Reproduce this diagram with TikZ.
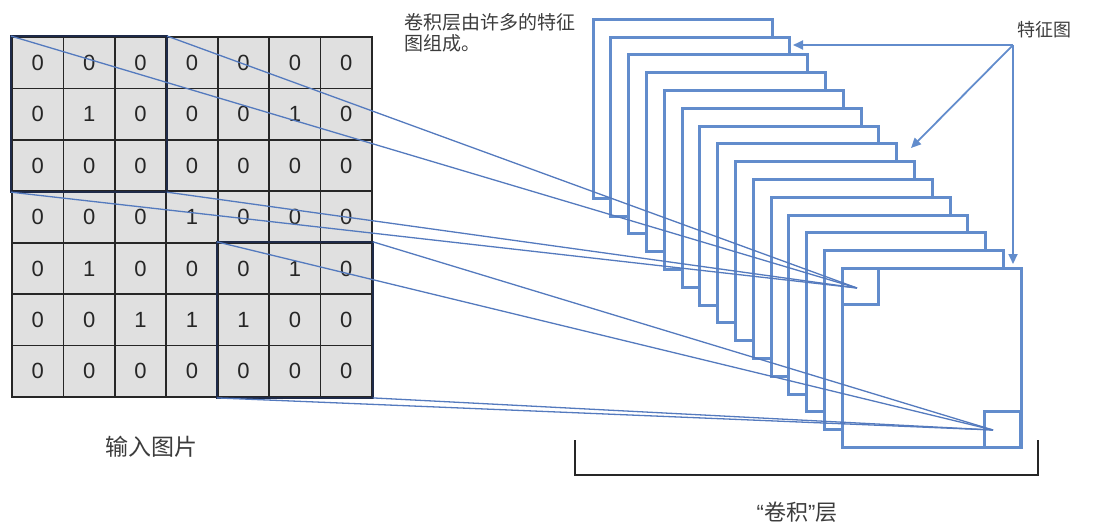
\documentclass[tikz,border=0pt]{standalone}
\usepackage{fontspec}
\setmainfont{Liberation Sans}
\newfontfamily\cjk{Noto Sans CJK SC}
\usetikzlibrary{arrows.meta}

\definecolor{mapblue}{RGB}{98,140,204}
\definecolor{linkblue}{RGB}{84,122,190}
\definecolor{windark}{RGB}{30,42,72}
\definecolor{cellgray}{RGB}{224,224,224}
\definecolor{textgray}{RGB}{60,60,60}

\tikzset{
  cell/.style={draw=black!85, line width=1.8pt, fill=cellgray, minimum size=51.43pt,
    inner sep=0pt, font=\fontsize{22}{22}\selectfont, text=black!85},
  window/.style={draw=windark, line width=2.4pt},
  fmap/.style={draw=mapblue, line width=3pt, fill=white},
  patch/.style={draw=mapblue, line width=3pt, minimum size=36pt, inner sep=0pt},
  link/.style={draw=linkblue, line width=1.3pt},
  pointer/.style={draw=mapblue, line width=1.8pt, -{Triangle[length=10pt,width=9pt]}},
  label/.style={font=\cjk\fontsize{#1}{#1}\selectfont, text=textgray, inner sep=0pt}
}

\begin{document}
\begin{tikzpicture}[x=1pt, y=-1pt]
  \useasboundingbox (0,0) rectangle (1099,531);

  % Input image grid
  \foreach \row [count=\r] in {{0,0,0,0,0,0,0},{0,1,0,0,0,1,0},{0,0,0,0,0,0,0},
      {0,0,0,1,0,0,0},{0,1,0,0,0,1,0},{0,0,1,1,1,0,0},{0,0,0,0,0,0,0}} {
    \foreach \v [count=\c] in \row {
      \node[cell] (c\r\c) at ({12+51.43*(\c-0.5)}, {37+51.43*(\r-0.5)}) {\v};
    }
  }

  % Receptive fields
  \draw[window] (c11.north west) rectangle (c33.south east);
  \draw[window] (c55.north west) rectangle (c77.south east);

  % Stack of feature maps (back to front)
  \foreach \k in {0,...,14}
    \draw[fmap] ({593+17.8*\k}, {19.3+17.8*\k}) rectangle ++(179,179);

  % Output units on the front map
  \node[patch] (p1) at (860,286.5) {};
  \node[patch] (p2) at (1002,429.5) {};
  \coordinate (t1) at (857,288);
  \coordinate (t2) at (993,430);

  % Projections
  \foreach \a in {c11.north west, c13.north east, c31.south west, c33.south east}
    \draw[link] (\a) -- (t1);
  \foreach \a in {c55.north west, c57.north east, c75.south west, c77.south east}
    \draw[link] (\a) -- (t2);

  % Labels
  \node[label=19, anchor=north west, align=left] (note) at (404,13)
    {卷积层由许多的特征\\[2pt]图组成。};
  \node[label=18, anchor=base west] (fm) at (1017,36) {特征图};
  \coordinate (fork) at (1013,45);
  \draw[pointer] (fork) -- (793,45);
  \draw[pointer] (fork) -- (911,148);
  \draw[pointer] (fork) -- (1013,264);

  \node[label=23, anchor=base west] (inp) at (105,455) {输入图片};

  % Convolution layer bracket
  \coordinate (bl) at (575,440);
  \coordinate (br) at (1038,440);
  \draw[black!85, line width=1.8pt] (bl) -- ++(0,35) -| (br);
  \node[label=22, anchor=base] (conv) at (797,520)
    {{\rmfamily\fontsize{22}{22}\selectfont “}卷积{\rmfamily\fontsize{22}{22}\selectfont ”}层};
\end{tikzpicture}
\end{document}
